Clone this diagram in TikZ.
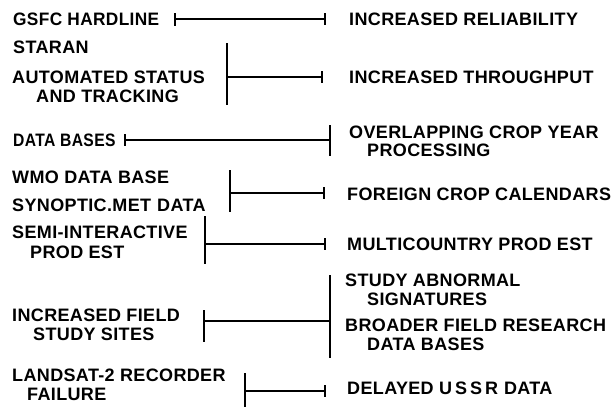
\documentclass[tikz,border=0pt]{standalone}
\usepackage{fontspec}
\setmainfont{Liberation Sans}[LetterSpace=2]
\newcommand{\lblfont}{\fontsize{18}{20}\selectfont\bfseries}
\begin{document}
\begin{tikzpicture}[x=1pt,y=-1pt,
  lbl/.style={anchor=west,inner sep=0pt,font=\lblfont},
  bar/.style={line width=1.8pt},
  hline/.style={line width=1.3pt}]
\useasboundingbox (0,0) rectangle (613,408);
% left texts
\node[lbl] (l1) at (13,19) {\addfontfeature{FakeStretch=0.96}GSFC HARDLINE};
\node[lbl] (l2a) at (13,47) {STARAN};
\node[lbl] (l2b) at (12,77) {AUTOMATED STATUS};
\node[lbl] (l2c) at (36,96) {AND TRACKING};
\node[lbl] (l3) at (13,140) {\addfontfeature{FakeStretch=0.87}DATA BASES};
\node[lbl] (l4a) at (12,177) {WMO DATA BASE};
\node[lbl] (l4b) at (12,205) {SYNOPTIC.MET\,\,DATA};
\node[lbl] (l5a) at (12,232) {SEMI-INTERACTIVE};
\node[lbl] (l5b) at (30,252) {PROD EST};
\node[lbl] (l6a) at (12,315) {INCREASED FIELD};
\node[lbl] (l6b) at (33,334) {STUDY SITES};
\node[lbl] (l7a) at (12,375) {LANDSAT-2 RECORDER};
\node[lbl] (l7b) at (27,394) {FAILURE};
% right texts
\node[lbl] (r1) at (349,19) {INCREASED RELIABILITY};
\node[lbl] (r2) at (349,77) {INCREASED THROUGHPUT};
\node[lbl] (r3a) at (349,132) {OVERLAPPING CROP YEAR};
\node[lbl] (r3b) at (367,150) {PROCESSING};
\node[lbl] (r4) at (347,194) {FOREIGN CROP CALENDARS};
\node[lbl] (r5) at (347,244) {MULTICOUNTRY PROD EST};
\node[lbl] (r6a) at (345,280) {STUDY ABNORMAL};
\node[lbl] (r6b) at (367,299) {SIGNATURES};
\node[lbl] (r6c) at (345,325) {BROADER FIELD RESEARCH};
\node[lbl] (r6d) at (367,344) {DATA BASES};
\node[lbl] (r7) at (347,388) {DELAYED U\,S\,S\,R\,\,DATA};
% connector 1
\coordinate (a1) at (175,19); \coordinate (b1) at (325,19);
\draw[bar] (175,13) -- (175,26); \draw[bar] (325,13) -- (325,25);
\draw[hline] (a1) -- (b1);
% connector 2
\coordinate (a2) at (227,77); \coordinate (b2) at (322,77);
\draw[bar] (227,43) -- (227,105); \draw[bar] (322,71) -- (322,83);
\draw[hline] (a2) -- (b2);
% connector 3
\coordinate (a3) at (125,140); \coordinate (b3) at (330,140);
\draw[bar] (125,134) -- (125,146); \draw[bar] (330,125) -- (330,156);
\draw[hline] (a3) -- (b3);
% connector 4
\coordinate (a4) at (230,193); \coordinate (b4) at (324,193);
\draw[bar] (230,170) -- (230,212); \draw[bar] (324,187) -- (324,199);
\draw[hline] (a4) -- (b4);
% connector 5
\coordinate (a5) at (205,244); \coordinate (b5) at (325,244);
\draw[bar] (205,216) -- (205,264); \draw[bar] (325,238) -- (325,250);
\draw[hline] (a5) -- (b5);
% connector 6
\coordinate (a6) at (204,321); \coordinate (b6) at (330,321);
\draw[bar] (204,310) -- (204,342); \draw[bar] (330,275) -- (330,358);
\draw[hline] (a6) -- (b6);
% connector 7
\coordinate (a7) at (245,391); \coordinate (b7) at (325,391);
\draw[bar] (245,373) -- (245,407); \draw[bar] (325,385) -- (325,397);
\draw[hline] (a7) -- (b7);
\end{tikzpicture}
\end{document}
